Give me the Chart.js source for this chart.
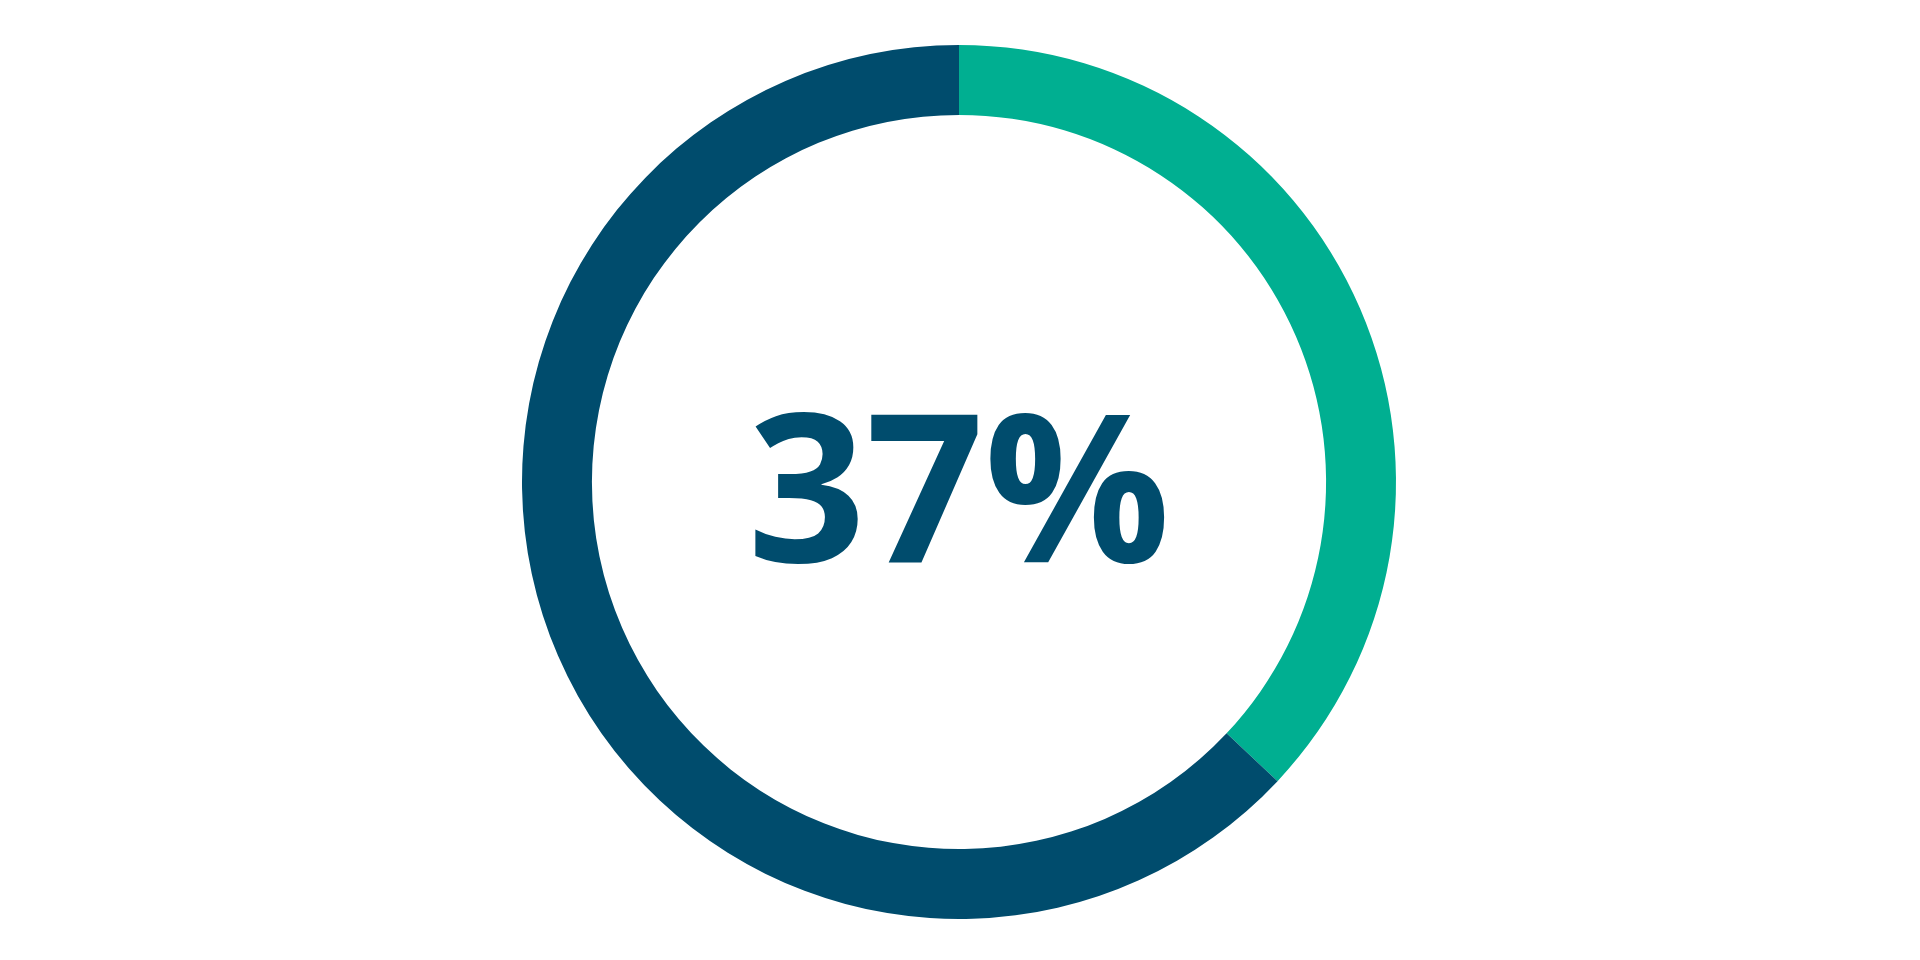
<!DOCTYPE html>
<html>
<head>
<meta charset="utf-8">
<style>
  html, body { margin: 0; padding: 0; background: #ffffff; }
  #wrap { width: 1920px; height: 960px; position: relative; }
</style>
<script src="https://cdn.jsdelivr.net/npm/chart.js@4/dist/chart.umd.min.js"></script>
</head>
<body>
<div id="wrap"><canvas id="c" width="1920" height="960"></canvas></div>
<script>
const categories = ["Yes", "No"];
const values = [37, 63];
const colors = ["#00af91", "#004c6d"];
const centerLabel = "37%";

const centerText = {
  id: 'centerText',
  afterDraw(chart) {
    const meta = chart.getDatasetMeta(0);
    const arc = meta.data[0];
    const ctx = chart.ctx;
    ctx.save();
    ctx.font = "bold 207px 'Open Sans'";
    ctx.fillStyle = "#004c6d";
    ctx.textAlign = "center";
    ctx.textBaseline = "alphabetic";
    ctx.fillText(centerLabel, arc.x, arc.y + 80);
    ctx.restore();
  }
};

new Chart(document.getElementById('c'), {
  type: 'doughnut',
  data: {
    labels: categories,
    datasets: [{
      data: values,
      backgroundColor: colors,
      borderWidth: 0,
      hoverOffset: 0
    }]
  },
  options: {
    responsive: false,
    animation: false,
    cutout: '84%',
    layout: { padding: { top: 45, bottom: 41, left: 0, right: 2 } },
    plugins: {
      legend: { display: false },
      tooltip: { enabled: false }
    }
  },
  plugins: [centerText]
});
</script>
</body>
</html>
